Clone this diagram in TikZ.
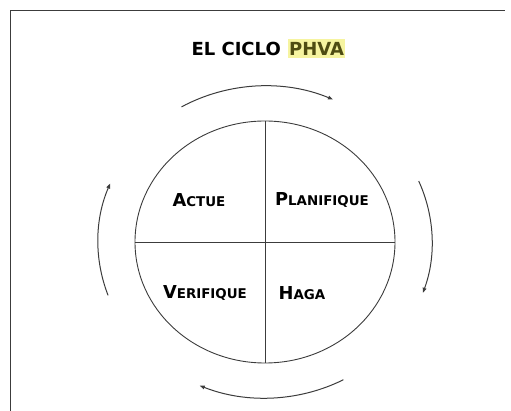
\documentclass[tikz,border=0pt]{standalone}
\usepackage{fontspec}
\setmainfont{DejaVu Sans}
\usetikzlibrary{arrows.meta,positioning,shapes.geometric,calc}
\definecolor{hl}{RGB}{246,244,160}
\definecolor{olive}{RGB}{78,76,18}
\definecolor{ln}{RGB}{60,60,60}
\newcommand\scap[2]{{\fontsize{17.8}{17.8}\selectfont #1}{\fontsize{13.4}{13.4}\selectfont #2}}
\tikzset{
  lbl/.style={font=\bfseries, inner sep=0pt, anchor=center},
  ttl/.style={lbl, font=\bfseries\fontsize{18}{18}\selectfont},
  cyc/.style={draw=ln, line width=1pt, -{Triangle[length=5pt,width=3.8pt]}},
  part/.style={draw=ln, line width=0.9pt},
}
\begin{document}
\begin{tikzpicture}[x=1pt,y=1pt]
\useasboundingbox (0,0) rectangle (511,411);
% frame
\coordinate (fb) at (10,0);
\coordinate (fc) at (10,400.5);
\coordinate (fr) at (505,400.5);
\draw[draw=ln, line width=0.9pt] (fb) -- (fc) -- (fr);
% title
\node[ttl, anchor=east] (t1) at (281,362.5) {EL CICLO};
\node[ttl, anchor=west, fill=hl, text=olive, inner xsep=1pt, inner ysep=3pt] (t2) at (288,362.5) {PHVA};
% circle
\coordinate (c) at (265,169);
\node[part, ellipse, minimum width=260pt, minimum height=242pt, inner sep=0pt, draw] (circ) at (c) {};
\draw[part] (circ.north) -- (circ.south);
\draw[part] (circ.west) -- (circ.east);
% labels
\node[lbl] (a) at (199,211) {\scap{A}{CTUE}};
\node[lbl] (p) at (322,211) {\scap{P}{LANIFIQUE}};
\node[lbl] (v) at (205,118) {\scap{V}{ERIFIQUE}};
\node[lbl] (h) at (302,118) {\scap{H}{AGA}};
% cycle arrows
\draw[cyc] ($(c)+(120:167 and 156)$) arc[start angle=120, end angle=66, x radius=167, y radius=156];
\draw[cyc] ($(c)+(23:167 and 156)$) arc[start angle=23, end angle=-19, x radius=167, y radius=156];
\draw[cyc] ($(c)+(-62:167 and 156)$) arc[start angle=-62, end angle=-113, x radius=167, y radius=156];
\draw[cyc] ($(c)+(200:167 and 156)$) arc[start angle=200, end angle=158, x radius=167, y radius=156];
\end{tikzpicture}
\end{document}
